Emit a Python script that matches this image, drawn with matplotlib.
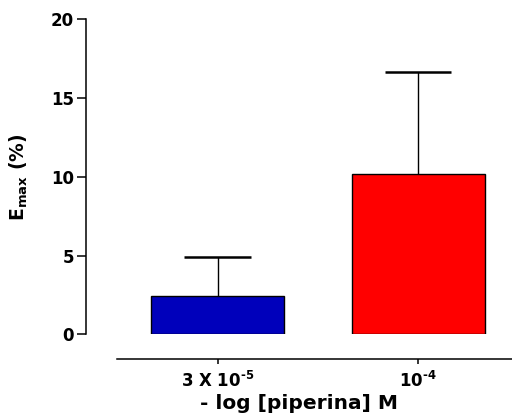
import matplotlib
matplotlib.use("Agg")
import matplotlib.pyplot as plt

categories = ["3 X 10$^{\u2010 5}$", "10$^{\u2010 4}$"]
values = [2.46, 10.16]
errors = [2.46, 6.46]
colors = ["#0000BB", "#FF0000"]
yticks = [0, 5, 10, 15, 20]

plt.rcParams['font.family'] = ['DejaVu Sans']
plt.rcParams['font.weight'] = 'bold'
plt.rcParams['mathtext.fontset'] = 'custom'
plt.rcParams['mathtext.rm'] = 'DejaVu Sans:bold'
plt.rcParams['mathtext.it'] = 'DejaVu Sans:bold'
plt.rcParams['mathtext.bf'] = 'DejaVu Sans:bold'
plt.rcParams['mathtext.default'] = 'rm'

fig = plt.figure(figsize=(5.12, 4.17), dpi=100)
ax = fig.add_axes([0.168, 0.198, 0.832, 0.756])

x = list(range(len(categories)))
w = 0.664
ax.bar(x, values, width=w, color=colors, edgecolor='black', linewidth=1.0, zorder=2)
ax.errorbar(x, values, yerr=[[0]*len(errors), errors], fmt='none', ecolor='black',
            elinewidth=1.0, capsize=0, zorder=1)
for xi, v, e in zip(x, values, errors):
    ax.hlines(v + e, xi - w / 4, xi + w / 4, color='black', linewidth=1.8, zorder=3)

ax.set_xlim(-0.657, 1.469)
ax.set_ylim(0, 20)
ax.set_yticks(yticks)
ax.set_yticklabels([str(t) for t in yticks])
ax.set_xticks(x)
ax.set_xticklabels(categories)

for s in ['top', 'right']:
    ax.spines[s].set_visible(False)
ax.spines['left'].set_linewidth(1.1)
ax.spines['bottom'].set_linewidth(1.1)
ax.spines['bottom'].set_position(('outward', 18))
ax.spines['bottom'].set_bounds(-0.503, 1.469)

ax.tick_params(axis='y', length=6.5, width=1.1, pad=2, labelsize=12)
ax.tick_params(axis='x', length=3.6, width=1.1, pad=5, labelsize=12)
for lab in ax.get_xticklabels() + ax.get_yticklabels():
    lab.set_fontweight('bold')
    lab.set_fontsize(12)

ax.set_ylabel("E$_{max}$ (%)", fontsize=13.5, fontweight='bold', labelpad=15)
ax.set_xlabel("- log [piperina] M", fontsize=14.5, fontweight='bold', labelpad=2)

fig.savefig("out.png", dpi=100)
